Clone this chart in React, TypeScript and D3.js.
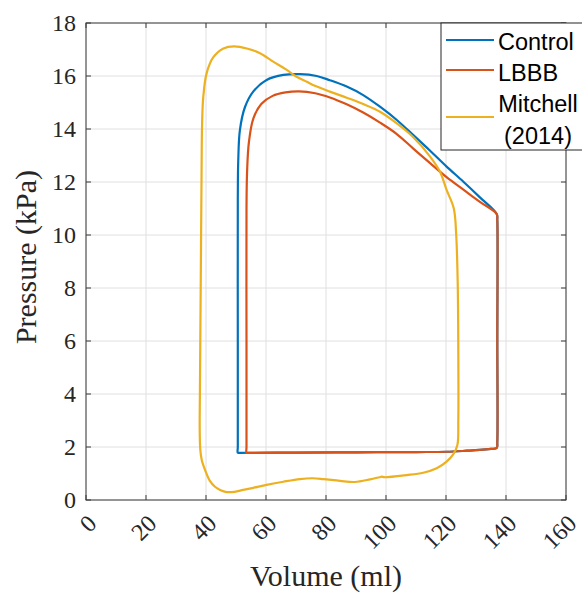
import React from "react";
import * as d3 from "d3";

// ---------- data ----------
const xTicks = [0, 20, 40, 60, 80, 100, 120, 140, 160];
const yTicks = [0, 2, 4, 6, 8, 10, 12, 14, 16, 18];
const seriesNames = ["Control", "LBBB", "Mitchell (2014)"];
const seriesColors = ["#0072BD", "#D95319", "#EDB120"];

// [volume ml, pressure kPa], counter-clockwise loops
const controlLoop: [number, number][] = [
  [50.6, 1.78], [51.3, 1.78], [70, 1.79], [90, 1.8], [110, 1.81], [120.2, 1.82], [127, 1.86],
  [131.3, 1.89], [135, 1.93], [136.9, 1.96], [137.1, 2.2], [137.1, 6], [137.1, 10.55], [136.9, 10.79],
  [131.3, 11.42], [125.8, 12.01], [120.2, 12.58], [114.7, 13.18], [109.1, 13.77],
  [103.6, 14.34], [98, 14.84], [92.4, 15.28], [86.9, 15.6], [81.3, 15.84], [76.9, 16.0],
  [71.3, 16.07], [65.8, 16.04], [60.2, 15.85], [55.8, 15.42], [53, 14.83], [51.3, 13.96],
  [50.75, 12.8], [50.6, 11.3], [50.6, 6], [50.6, 2.0],
];

const lbbbLoop: [number, number][] = [
  [53.5, 1.78], [54.2, 1.78], [70, 1.79], [90, 1.8], [110, 1.81], [120.2, 1.82], [127, 1.86],
  [131.3, 1.89], [135, 1.93], [136.9, 1.96], [137.1, 2.2], [137.1, 6], [137.1, 10.55], [136.9, 10.79],
  [131.3, 11.25], [125.8, 11.71], [120.2, 12.18], [114.7, 12.71], [109.1, 13.26],
  [103.6, 13.81], [98, 14.24], [92.4, 14.62], [86.9, 14.93], [81.3, 15.19], [76.4, 15.35],
  [71, 15.42], [66.5, 15.38], [62.2, 15.25], [58.5, 14.95], [55.8, 14.4], [54.3, 13.5],
  [53.7, 12.4], [53.5, 11], [53.5, 6], [53.5, 2.0],
];

const mitchellLoop: [number, number][] = [
  [37.9, 2.7], [38.1, 1.9], [38.6, 1.5], [39.7, 1.13], [41.3, 0.72], [43, 0.5], [44.7, 0.38],
  [46.9, 0.3], [49.5, 0.31], [52.4, 0.38], [55.8, 0.46], [60.2, 0.57], [65.8, 0.69], [71.3, 0.79],
  [75.5, 0.82], [79.1, 0.79], [84.7, 0.72], [89.6, 0.68], [94.7, 0.78], [97.8, 0.86], [98.6, 0.88],
  [99.4, 0.86], [106.9, 0.94], [112.4, 1.03], [116.9, 1.2], [120.2, 1.45], [122.4, 1.72],
  [123.8, 2.08], [124.1, 3], [124.1, 5.66], [123.9, 8.2], [123.4, 10.0], [122.6, 11.0],
  [120.2, 11.7], [118, 12.39], [114.7, 12.96], [109.1, 13.69], [103.6, 14.21], [98, 14.65],
  [92.4, 14.94], [86.9, 15.18], [81.3, 15.41], [76.5, 15.62], [73.6, 15.78], [70.2, 15.97],
  [66.9, 16.23], [62.4, 16.54], [58, 16.86], [53.6, 17.04], [49.4, 17.12], [45.8, 17.04],
  [42.4, 16.7], [40.2, 16.1], [39.1, 15.22], [38.7, 14.2], [38.5, 12], [38.3, 9], [38.1, 6],
  [37.95, 3.8],
];

const loops = [controlLoop, lbbbLoop, mitchellLoop];

// ---------- layout ----------
const W = 582;
const H = 594;
const left = 86;
const right = 566;
const top = 23;
const bottom = 500;

export default function App() {
  const x = d3.scaleLinear().domain([0, 160]).range([left, right]);
  const y = d3.scaleLinear().domain([0, 18]).range([bottom, top]);
  const line = d3
    .line<[number, number]>()
    .x((d) => x(d[0]))
    .y((d) => y(d[1]))
    .curve(d3.curveCatmullRomClosed.alpha(0.5));

  const axisColor = "#3a3a3a";
  const tickLen = 5;
  const serif = "'Liberation Serif', 'Times New Roman', serif";
  const sans = "'Liberation Sans', Arial, sans-serif";

  const legendX = 441;
  const legendY = 23;
  const legendLineX0 = 446;
  const legendLineX1 = 494;
  const legendTextX = 498;
  const legendRows = [
    { lineY: 40, texts: [{ t: "Control", y: 49.5 }] },
    { lineY: 70, texts: [{ t: "LBBB", y: 80.5 }] },
    {
      lineY: 117,
      texts: [
        { t: "Mitchell", y: 111.5 },
        { t: "(2014)", y: 143.5 },
      ],
    },
  ];

  return (
    <svg
      width={W}
      height={H}
      style={{ position: "absolute", left: 0, top: 0, background: "#fff" }}
    >
      <rect x={0} y={0} width={W} height={H} fill="#fff" />
      {/* grid */}
      <g stroke="#e0e0e0" strokeWidth={1}>
        {xTicks.map((t) => (
          <line key={"gx" + t} x1={x(t)} x2={x(t)} y1={top} y2={bottom} />
        ))}
        {yTicks.map((t) => (
          <line key={"gy" + t} x1={left} x2={right} y1={y(t)} y2={y(t)} />
        ))}
      </g>
      {/* data */}
      {loops.map((d, i) => (
        <path
          key={seriesNames[i]}
          d={line(d) || ""}
          fill="none"
          stroke={seriesColors[i]}
          strokeWidth={2.2}
          strokeLinejoin="round"
        />
      ))}
      {/* axes box */}
      <rect
        x={left}
        y={top}
        width={right - left}
        height={bottom - top}
        fill="none"
        stroke={axisColor}
        strokeWidth={1}
      />
      <g stroke={axisColor} strokeWidth={1}>
        {xTicks.map((t) => (
          <g key={"tx" + t}>
            <line x1={x(t)} x2={x(t)} y1={bottom} y2={bottom - tickLen} />
            <line x1={x(t)} x2={x(t)} y1={top} y2={top + tickLen} />
          </g>
        ))}
        {yTicks.map((t) => (
          <g key={"ty" + t}>
            <line x1={left} x2={left + tickLen} y1={y(t)} y2={y(t)} />
            <line x1={right} x2={right - tickLen} y1={y(t)} y2={y(t)} />
          </g>
        ))}
      </g>
      {/* y tick labels */}
      <g fontFamily={serif} fontSize={24} fill="#262626" textAnchor="end">
        {yTicks.map((t) => (
          <text key={"yl" + t} x={left - 10} y={y(t)} dy="0.33em">
            {t}
          </text>
        ))}
      </g>
      {/* x tick labels rotated */}
      <g fontFamily={serif} fontSize={24} fill="#262626" textAnchor="end">
        {xTicks.map((t) => (
          <text
            key={"xl" + t}
            transform={`translate(${x(t) + 12},${bottom + 25}) rotate(-45)`}
          >
            {t}
          </text>
        ))}
      </g>
      {/* axis labels */}
      <text
        x={(left + right) / 2}
        y={586}
        textAnchor="middle"
        fontFamily={serif}
        fontSize={30}
        fill="#262626"
      >
        Volume (ml)
      </text>
      <text
        transform={`translate(36,257) rotate(-90)`}
        textAnchor="middle"
        fontFamily={serif}
        fontSize={30}
        fill="#262626"
      >
        Pressure (kPa)
      </text>
      {/* legend */}
      <rect
        x={legendX}
        y={legendY}
        width={W - legendX + 10}
        height={150 - legendY}
        fill="#fff"
        stroke="#262626"
        strokeWidth={1}
      />
      {legendRows.map((r, i) => (
        <g key={"lg" + i}>
          <line
            x1={legendLineX0}
            x2={legendLineX1}
            y1={r.lineY}
            y2={r.lineY}
            stroke={seriesColors[i]}
            strokeWidth={2.2}
          />
          {r.texts.map((tt, j) => (
            <text
              key={j}
              x={r.texts.length > 1 ? 538 : legendTextX}
              y={tt.y}
              textAnchor={r.texts.length > 1 ? "middle" : "start"}
              fontFamily={sans}
              fontSize={23.5}
              fill="#000"
            >
              {tt.t}
            </text>
          ))}
        </g>
      ))}
    </svg>
  );
}
